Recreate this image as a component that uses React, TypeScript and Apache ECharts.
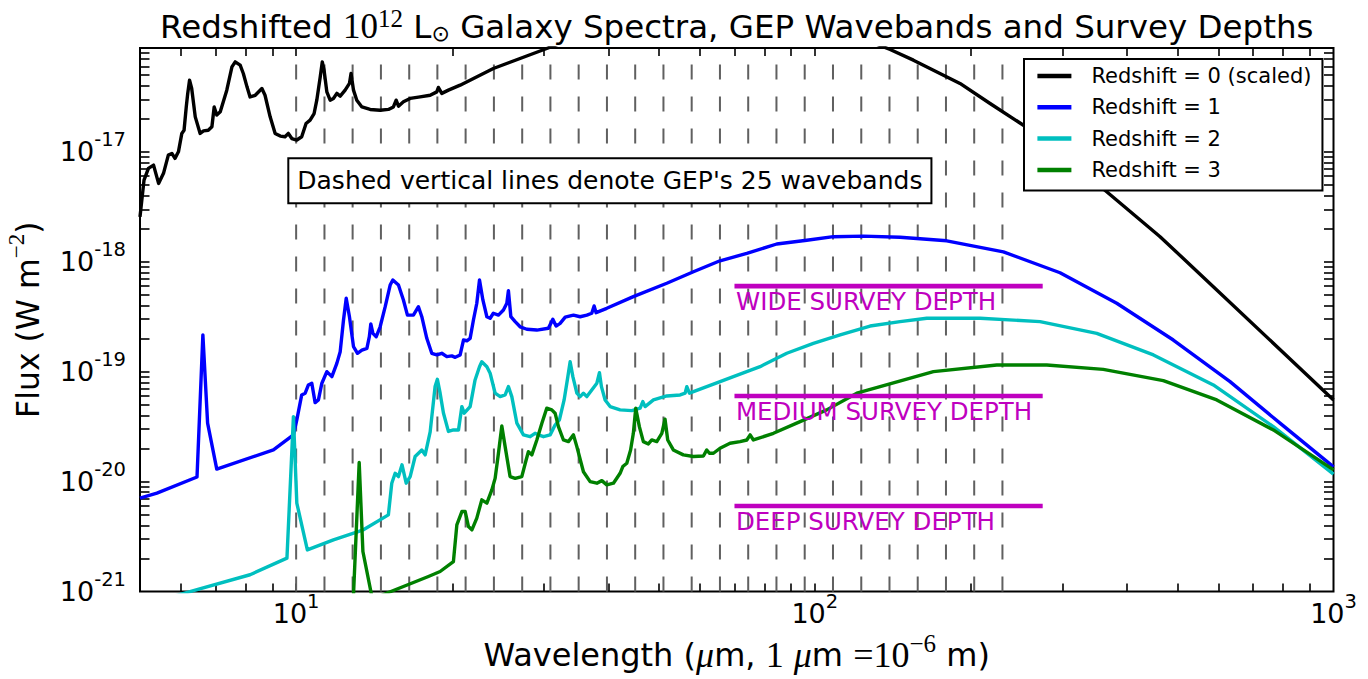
import React, { useEffect, useRef } from 'react';
import * as echarts from 'echarts';

// ---------- axis extents (real units) ----------
const X_MIN = 5;
const X_MAX = 1000;
const Y_MIN = 1e-21;
const Y_MAX = 8.8e-17;

// ---------- spectra: [wavelength (um), flux (W m^-2)] ----------
const z0 = [
  [5.0, 2.56e-18], [5.09, 5.53e-18], [5.19, 7.06e-18], [5.31, 7.57e-18], [5.43, 5.16e-18],
  [5.55, 6.37e-18], [5.67, 9.33e-18], [5.76, 9.66e-18], [5.84, 8.71e-18], [5.93, 1.0e-17],
  [6.02, 1.47e-17], [6.08, 1.57e-17], [6.14, 2.56e-17], [6.18, 3.4e-17], [6.23, 4.49e-17],
  [6.29, 3.77e-17], [6.39, 2.08e-17], [6.53, 1.47e-17], [6.63, 1.55e-17], [6.77, 1.57e-17],
  [6.88, 1.69e-17], [6.95, 2.56e-17], [7.03, 2.16e-17], [7.14, 2.31e-17], [7.35, 3.64e-17],
  [7.52, 5.93e-17], [7.63, 6.58e-17], [7.8, 6.14e-17], [7.91, 5.16e-17], [8.04, 3.9e-17],
  [8.15, 3.16e-17], [8.34, 3.27e-17], [8.59, 3.77e-17], [8.71, 3.27e-17], [8.91, 2.08e-17],
  [9.11, 1.47e-17], [9.32, 1.39e-17], [9.52, 1.37e-17], [9.66, 1.47e-17], [9.81, 1.32e-17],
  [10.03, 1.28e-17], [10.25, 1.37e-17], [10.45, 1.81e-17], [10.64, 1.94e-17], [10.83, 2.23e-17],
  [10.96, 2.95e-17], [11.13, 4.81e-17], [11.23, 6.58e-17], [11.32, 5.53e-17], [11.46, 3.51e-17],
  [11.63, 2.95e-17], [11.8, 3.06e-17], [11.98, 3.4e-17], [12.16, 3.21e-17], [12.43, 3.64e-17],
  [12.67, 4.19e-17], [12.76, 5.16e-17], [12.9, 3.64e-17], [13.09, 2.95e-17], [13.39, 2.56e-17],
  [13.89, 2.43e-17], [14.52, 2.39e-17], [15.06, 2.43e-17], [15.4, 2.56e-17], [15.59, 2.95e-17],
  [15.75, 2.6e-17], [16.1, 2.85e-17], [16.59, 3.06e-17], [17.34, 3.16e-17], [18.13, 3.27e-17],
  [18.67, 3.51e-17], [18.8, 3.85e-17], [19.09, 3.4e-17], [19.66, 3.64e-17], [20.71, 4.04e-17],
  [24.0, 5.73e-17], [30.42, 8.71e-17], [32.87, 1.0e-16], [42.27, 1.42e-16], [54.33, 1.65e-16],
  [73.07, 1.63e-16], [89.87, 1.52e-16], [115.6, 1.21e-16], [139.7, 8.53e-17], [154.9, 6.82e-17],
  [190.5, 4.19e-17], [217.7, 2.75e-17], [254.2, 1.71e-17], [365.4, 4.33e-18], [463.1, 1.69e-18],
  [586.6, 5.93e-19], [1000, 5.53e-20],
];

const z1 = [
  [5.0, 7.06e-21], [5.39, 7.85e-21], [6.44, 1.1e-20], [6.61, 2.16e-19], [6.75, 3.4e-20],
  [7.03, 1.3e-20], [9.04, 1.94e-20], [9.88, 2.66e-20], [10.03, 3.64e-20], [10.25, 6.14e-20],
  [10.41, 6.37e-20], [10.56, 7.57e-20], [10.72, 7.85e-20], [10.88, 5.23e-20], [11.04, 5.53e-20],
  [11.21, 7.85e-20], [11.46, 1.0e-19], [11.72, 9.01e-20], [11.98, 1.19e-19], [12.16, 1.52e-19],
  [12.34, 2.95e-19], [12.49, 4.65e-19], [12.67, 3.16e-19], [12.9, 1.69e-19], [13.13, 1.47e-19],
  [13.39, 1.57e-19], [13.69, 1.63e-19], [13.84, 2.08e-19], [13.93, 2.72e-19], [14.06, 2.23e-19],
  [14.27, 2.08e-19], [14.52, 2.56e-19], [14.85, 3.9e-19], [15.18, 6.14e-19], [15.36, 6.82e-19],
  [15.75, 6.14e-19], [16.1, 4.49e-19], [16.39, 3.27e-19], [16.83, 3.27e-19], [17.21, 3.9e-19],
  [17.47, 3.16e-19], [17.86, 2.01e-19], [18.26, 1.47e-19], [18.67, 1.42e-19], [19.09, 1.47e-19],
  [19.52, 1.37e-19], [19.96, 1.39e-19], [20.26, 1.35e-19], [20.71, 1.42e-19], [21.02, 1.94e-19],
  [21.34, 1.91e-19], [21.65, 2.01e-19], [21.97, 2.95e-19], [22.3, 4.19e-19], [22.57, 6.82e-19],
  [22.91, 4.49e-19], [23.32, 3.16e-19], [23.66, 3.06e-19], [24.0, 3.4e-19], [24.55, 3.27e-19],
  [25.1, 3.64e-19], [25.48, 4.19e-19], [25.66, 5.45e-19], [25.94, 3.16e-19], [26.44, 2.85e-19],
  [27.03, 2.56e-19], [27.85, 2.43e-19], [29.11, 2.39e-19], [30.64, 2.48e-19], [31.25, 2.99e-19],
  [31.71, 2.6e-19], [32.28, 2.75e-19], [33.02, 3.13e-19], [34.25, 3.27e-19], [35.28, 3.16e-19],
  [36.35, 3.27e-19], [37.15, 3.4e-19], [37.54, 3.96e-19], [37.87, 3.44e-19], [39.71, 3.77e-19],
  [44.68, 4.81e-19], [51.83, 6.37e-19], [58.34, 8.11e-19], [65.65, 1.02e-18], [73.94, 1.19e-18],
  [84.45, 1.45e-18], [96.5, 1.57e-18], [108.6, 1.69e-18], [124.1, 1.71e-18], [146.0, 1.67e-18],
  [179.6, 1.55e-18], [231.0, 1.23e-18], [297.0, 7.94e-19], [382.0, 4.19e-19], [491.1, 1.94e-19],
  [631.7, 8.11e-20], [788.6, 3.4e-20], [1000, 1.36e-20],
];

const z2 = [
  [5.0, 7.4e-22], [6.44, 1.04e-21], [8.15, 1.42e-21], [9.6, 2.01e-21], [9.88, 3.9e-20],
  [10.03, 6.37e-21], [10.51, 2.39e-21], [11.8, 2.95e-21], [13.48, 3.64e-21], [15.06, 4.98e-21],
  [15.29, 9.67e-21], [15.52, 1.19e-20], [15.75, 1.11e-20], [16.0, 1.42e-20], [16.3, 9.67e-21],
  [16.59, 1.11e-20], [16.96, 1.69e-20], [17.47, 1.94e-20], [17.73, 1.75e-20], [18.13, 2.83e-20],
  [18.53, 7.31e-20], [18.72, 8.53e-20], [18.95, 6.37e-20], [19.23, 4.21e-20], [19.66, 2.86e-20],
  [20.1, 2.95e-20], [20.56, 2.95e-20], [20.87, 4.81e-20], [21.09, 4.19e-20], [21.65, 4.81e-20],
  [22.13, 8.41e-20], [22.57, 1.11e-19], [22.8, 1.23e-19], [23.32, 1.11e-19], [23.66, 9.67e-20],
  [24.19, 6.37e-20], [24.74, 5.93e-20], [25.29, 6.14e-20], [25.66, 7.31e-20], [26.05, 5.93e-20],
  [26.64, 3.4e-20], [27.43, 2.66e-20], [28.26, 2.56e-20], [28.88, 2.75e-20], [29.32, 2.66e-20],
  [29.98, 2.56e-20], [30.88, 2.66e-20], [31.57, 3.27e-20], [32.18, 3.64e-20], [32.86, 5.53e-20],
  [33.41, 9.01e-20], [33.75, 1.23e-19], [34.16, 9.01e-20], [34.77, 6.37e-20], [35.28, 5.93e-20],
  [35.8, 6.37e-20], [36.35, 5.93e-20], [37.15, 6.82e-20], [38.0, 7.85e-20], [38.44, 9.79e-20],
  [38.78, 7.31e-20], [39.42, 5.53e-20], [40.3, 4.81e-20], [42.13, 4.49e-20], [44.38, 4.42e-20],
  [46.05, 4.65e-20], [46.6, 5.34e-20], [47.08, 4.81e-20], [48.85, 5.53e-20], [51.83, 6.01e-20],
  [55.0, 6.14e-20], [56.23, 6.37e-20], [56.65, 7.31e-20], [57.31, 6.37e-20], [61.9, 7.31e-20],
  [69.66, 9.01e-20], [78.43, 1.11e-19], [88.3, 1.47e-19], [99.36, 1.81e-19], [111.9, 2.16e-19],
  [127.8, 2.6e-19], [146.0, 2.85e-19], [164.4, 3.06e-19], [208.3, 3.06e-19], [271.8, 2.85e-19],
  [349.6, 2.23e-19], [449.6, 1.42e-19], [586.6, 7.57e-20], [765.6, 3.16e-20], [1000, 1.17e-20],
];

const z3 = [
  [5.0, 1.9e-22], [12.82, 4.68e-22], [13.23, 1.49e-20], [13.45, 2.31e-21], [14.03, 8.5e-22],
  [15.06, 9.8e-22], [17.99, 1.37e-21], [18.95, 1.52e-21], [20.1, 1.87e-21], [20.41, 4.04e-21],
  [20.87, 5.34e-21], [21.18, 5.34e-21], [21.49, 3.9e-21], [21.82, 3.64e-21], [22.3, 4.65e-21],
  [22.8, 6.82e-21], [23.32, 6.37e-21], [23.84, 8.41e-21], [24.19, 1.07e-20], [24.55, 1.81e-20],
  [24.92, 3.21e-20], [25.29, 2.08e-20], [25.85, 1.11e-20], [26.44, 1.07e-20], [27.23, 1.11e-20],
  [27.76, 1.57e-20], [28.04, 1.87e-20], [28.47, 1.75e-20], [29.11, 2.39e-20], [29.77, 3.4e-20],
  [30.42, 4.65e-20], [31.11, 4.49e-20], [31.57, 4.19e-20], [32.04, 3.16e-20], [32.76, 2.39e-20],
  [33.49, 2.31e-20], [34.25, 2.66e-20], [34.77, 2.08e-20], [35.8, 1.23e-20], [36.88, 1.0e-20],
  [38.0, 9.67e-21], [38.85, 1.02e-20], [39.71, 9.33e-21], [40.9, 9.67e-21], [42.13, 1.19e-20],
  [42.64, 1.37e-20], [43.4, 1.47e-20], [44.14, 1.94e-20], [44.68, 2.75e-20], [45.16, 4.65e-20],
  [45.89, 3.16e-20], [46.71, 2.31e-20], [47.76, 2.2e-20], [48.49, 2.39e-20], [49.58, 2.31e-20],
  [50.7, 2.75e-20], [51.43, 3.69e-20], [52.05, 2.39e-20], [53.36, 1.94e-20], [55.78, 1.75e-20],
  [58.34, 1.69e-20], [60.98, 1.71e-20], [61.9, 1.94e-20], [62.63, 1.81e-20], [63.76, 1.81e-20],
  [65.65, 2.01e-20], [68.63, 2.23e-20], [71.76, 2.31e-20], [73.94, 2.39e-20], [75.04, 2.66e-20],
  [76.14, 2.39e-20], [83.22, 2.75e-20], [93.67, 3.51e-20], [105.4, 4.49e-20], [120.5, 6.37e-20],
  [133.6, 7.31e-20], [169.3, 1.0e-19], [224.3, 1.15e-19], [280.0, 1.15e-19], [359.9, 1.05e-19],
  [469.8, 8.28e-20], [595.6, 5.53e-20], [765.6, 2.95e-20], [1000, 1.28e-20],
];

const spectra = [z0, z1, z2, z3];
const legendNames = ['Redshift = 0 (scaled)', 'Redshift = 1', 'Redshift = 2', 'Redshift = 3'];
const spectraColors = ['#000000', '#0000ff', '#00bfbf', '#008000'];

// ---------- GEP waveband edges (um) ----------
const wavebandEdges = [
  10, 11.34, 12.85, 14.57, 16.52, 18.72, 21.22, 24.06, 27.28, 30.92, 35.05, 39.74, 45.05,
  51.07, 57.89, 65.63, 74.4, 84.34, 95.61, 108.4, 122.9, 139.3, 157.9, 179.0, 202.9, 230.0,
];

// ---------- survey depths ----------
const depthLabels = ['WIDE SURVEY DEPTH', 'MEDIUM SURVEY DEPTH', 'DEEP SURVEY DEPTH'];
const depthFlux = [6e-19, 6e-20, 6e-21];
const depthBand = [70, 275];

// ---------- ticks and tick labels ----------
const xLabelValues = [10, 100, 1000];
const yLabelValues = [1e-21, 1e-20, 1e-19, 1e-18, 1e-17];
const xTickValues = [6, 7, 8, 9, 10, 20, 30, 40, 50, 60, 70, 80, 90, 100, 200, 300, 400, 500, 600, 700, 800, 900];
const tickMantissas = [1, 2, 3, 4, 5, 6, 7, 8, 9];
const yDecades = [-21, -20, -19, -18, -17];

const lg = (v: number) => Math.log10(v);
const yTickValues: number[] = [];
yDecades.forEach((e) => tickMantissas.forEach((m) => {
  const v = m * Math.pow(10, e);
  if (v > Y_MIN * 1.0001 && v < Y_MAX) yTickValues.push(v);
}));

const SANS = 'DejaVu Sans';
const SERIF = 'Liberation Serif';
const MAGENTA = '#bf00bf';

const powLabel = (v: number) => `{b|10}{s|${Math.round(v)}}`;

const tickRich = {
  b: { fontFamily: SANS, fontSize: 27, lineHeight: 30, color: '#000' },
  s: { fontFamily: SANS, fontSize: 19.5, lineHeight: 10, color: '#000', padding: [0, 0, 24, 0] },
};

const toLog = (d: number[][]) => d.map(([x, y]) => [lg(x), lg(y)]);

export default function App() {
  const ref = useRef<HTMLDivElement>(null);

  useEffect(() => {
    if (!ref.current) return;
    const chart = echarts.init(ref.current, null, { renderer: 'svg' });

    const xMinL = lg(X_MIN), xMaxL = lg(X_MAX), yMinL = lg(Y_MIN), yMaxL = lg(Y_MAX);

    const spectraSeries = spectra.map((d, i) => ({
      type: 'line',
      name: legendNames[i],
      data: toLog(d),
      symbol: 'none',
      showSymbol: false,
      silent: true,
      z: 3,
      color: spectraColors[i],
      itemStyle: { color: spectraColors[i] },
      lineStyle: { color: spectraColors[i], width: 3.4, join: 'round' },
    }));

    const depthSeries = depthFlux.map((f, i) => ({
      type: 'line',
      name: depthLabels[i],
      data: toLog([[depthBand[0], f], [depthBand[1], f]]),
      symbol: 'none',
      showSymbol: false,
      silent: true,
      z: 4,
      color: MAGENTA,
      lineStyle: { color: MAGENTA, width: 4.6, cap: 'butt' },
    }));

    const tickStyle = { show: true, inside: true, lineStyle: { color: '#000', width: 1.6 } };

    const baseX = {
      type: 'value',
      min: xMinL,
      max: xMaxL,
      axisLine: { show: false },
      splitLine: { show: false },
    };
    const baseY = {
      type: 'value',
      min: yMinL,
      max: yMaxL,
      axisLine: { show: false },
      splitLine: { show: false },
    };

    const option: any = {
      animation: false,
      textStyle: { fontFamily: SANS },
      title: {
        text: '{a|Redshifted }{m|10}{p|12}{a| L}{o|⊙}{a| Galaxy Spectra, GEP Wavebands and Survey Depths}',
        left: 736.75,
        top: 6.5,
        padding: 0,
        textAlign: 'center',
        textStyle: {
          fontWeight: 'normal',
          rich: {
            a: { fontFamily: SANS, fontSize: 32.5, fontWeight: 'normal', lineHeight: 40, color: '#000' },
            m: { fontFamily: SERIF, fontSize: 35, fontWeight: 'normal', lineHeight: 40, color: '#000' },
            p: { fontFamily: SERIF, fontSize: 25, fontWeight: 'normal', lineHeight: 10, color: '#000', padding: [0, 0, 16, 0] },
            o: { fontFamily: SANS, fontSize: 22, fontWeight: 'normal', lineHeight: 10, color: '#000', padding: [14, 0, 0, 0] },
          },
        },
      },
      grid: {
        left: 140,
        top: 48,
        width: 1193.5,
        height: 543.5,
        show: true,
        borderColor: '#000',
        borderWidth: 2,
        backgroundColor: 'transparent',
        containLabel: false,
        outerBoundsMode: 'none',
      },
      legend: {
        data: legendNames,
        orient: 'vertical',
        left: 1024,
        top: 59,
        z: 10,
        icon: 'rect',
        itemWidth: 34,
        itemHeight: 4.5,
        itemGap: 10.3,
        padding: [6.5, 11, 10.2, 13.4],
        backgroundColor: '#ffffff',
        borderColor: '#000',
        borderWidth: 2,
        borderRadius: 0,
        selectedMode: false,
        textStyle: { fontFamily: SANS, fontSize: 21, lineHeight: 21, color: '#000', padding: [0, 0, 0, 15] },
      },
      xAxis: [
        {
          ...baseX,
          position: 'bottom',
          axisTick: { ...tickStyle, length: 8, customValues: xTickValues.map(lg) },
          axisLabel: { formatter: powLabel, margin: 7, rich: tickRich, customValues: xLabelValues.map(lg) },
          name: '{a|Wavelength (}{i|μ}{a|m, }{r|1}{a| }{i|μ}{a|m }{r|=10}{q|−6}{a| m)}',
          nameLocation: 'middle',
          nameGap: 45,
          nameMoveOverlap: false,
          nameTextStyle: {
            rich: {
              a: { fontFamily: SANS, fontSize: 32, lineHeight: 36, color: '#000' },
              i: { fontFamily: SERIF, fontStyle: 'italic', fontSize: 36, lineHeight: 36, color: '#000' },
              r: { fontFamily: SERIF, fontSize: 36, lineHeight: 36, color: '#000' },
              q: { fontFamily: SERIF, fontSize: 25, lineHeight: 10, color: '#000', padding: [0, 0, 23, 0] },
            },
          },
        },
        {
          ...baseX,
          position: 'top',
          axisTick: { ...tickStyle, length: 8, customValues: xTickValues.map(lg) },
          axisLabel: { show: false },
        },
      ],
      yAxis: [
        {
          ...baseY,
          position: 'left',
          axisTick: { ...tickStyle, length: 9.5, customValues: yTickValues.map(lg) },
          axisLabel: { formatter: powLabel, margin: 14, rich: tickRich, customValues: yLabelValues.map(lg) },
          name: '{a|Flux (W m}{q|−2}{a|)}',
          nameLocation: 'middle',
          nameGap: 92,
          nameMoveOverlap: false,
          nameTextStyle: {
            rich: {
              a: { fontFamily: SANS, fontSize: 31.5, lineHeight: 40, color: '#000' },
              q: { fontFamily: SERIF, fontSize: 23, lineHeight: 10, color: '#000', padding: [0, 0, 23, 0] },
            },
          },
        },
        {
          ...baseY,
          position: 'right',
          axisTick: { ...tickStyle, length: 9.5, customValues: yTickValues.map(lg) },
          axisLabel: { show: false },
        },
      ],
      series: [
        {
          type: 'custom',
          name: 'wavebands',
          z: 1,
          silent: true,
          data: wavebandEdges.map((v) => [lg(v), yMinL]),
          encode: { x: 0, y: 1 },
          renderItem: (params: any, api: any) => {
            const cs = params.coordSys;
            const px = api.coord([api.value(0), yMinL])[0];
            return {
              type: 'line',
              shape: { x1: px, y1: cs.y + cs.height, x2: px, y2: cs.y },
              style: { stroke: '#606060', lineWidth: 2, lineDash: [15, 17] },
            };
          },
        },
        ...spectraSeries,
        ...depthSeries,
      ],
    };

    chart.setOption(option);

    const depthTexts = depthFlux.map((f, i) => {
      const p = chart.convertToPixel({ gridIndex: 0 }, [lg(depthBand[0]), lg(f)]) as number[];
      return {
        type: 'text',
        x: p[0] + 1.5,
        y: p[1] + 15.5,
        z: 7,
        silent: true,
        style: {
          text: depthLabels[i],
          font: `24.5px "${SANS}"`,
          fill: MAGENTA,
          align: 'left',
          verticalAlign: 'middle',
        },
      };
    });

    chart.setOption({
      graphic: [
        {
          type: 'text',
          left: 287.3,
          top: 157.3,
          z: 20,
          silent: true,
          style: {
            text: "Dashed vertical lines denote GEP's 25 wavebands",
            font: `25px "${SANS}"`,
            fill: '#000',
            backgroundColor: '#ffffff',
            borderColor: '#000',
            borderWidth: 2,
            padding: [7, 8, 7, 8],
            lineHeight: 29,
          },
        },
        ...depthTexts,
      ],
    });

    return () => chart.dispose();
  }, []);

  return (
    <div
      ref={ref}
      style={{ position: 'fixed', left: 0, top: 0, width: '1368px', height: '679px', background: '#fff' }}
    />
  );
}
